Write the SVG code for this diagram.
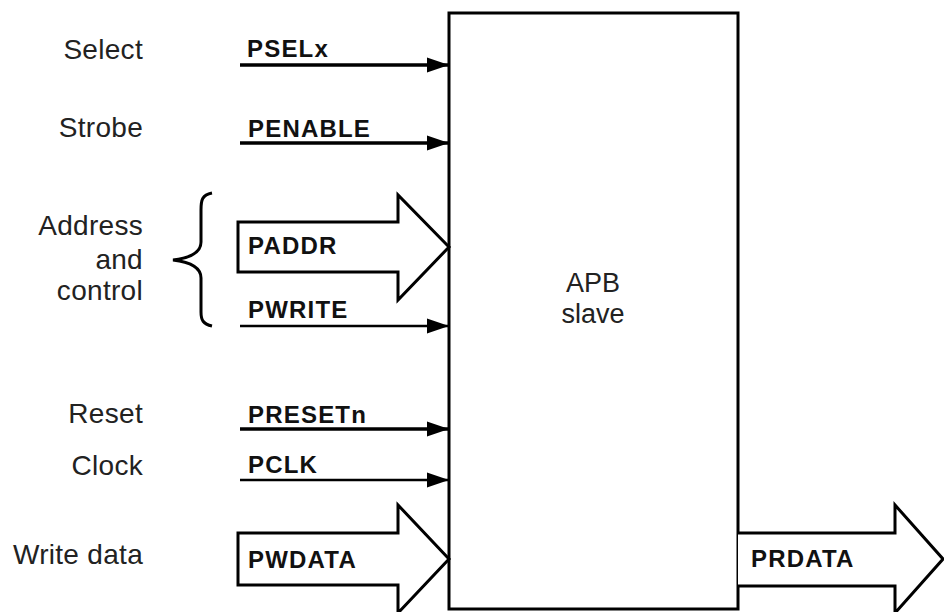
<svg xmlns="http://www.w3.org/2000/svg" width="944" height="612" viewBox="0 0 944 612">
<style>
  .lbl { font-family: "Liberation Sans", Arial, sans-serif; font-size: 28px; letter-spacing: 0.3px; fill: #222; text-anchor: end; }
  .sig { font-family: "Liberation Sans", Arial, sans-serif; font-size: 24px; letter-spacing: 1.2px; font-weight: bold; fill: #111; }
  .ctr { font-family: "Liberation Sans", Arial, sans-serif; font-size: 27px; fill: #222; text-anchor: middle; }
  .wire { stroke: #000; stroke-width: 3.5; fill: none; marker-end: url(#ah); }
  .thin { stroke-width: 2.5; }
  .bus { stroke: #000; stroke-width: 3; fill: #fff; stroke-linejoin: miter; }
</style>
<defs>
  <marker id="ah" markerUnits="userSpaceOnUse" markerWidth="22" markerHeight="18" refX="22" refY="9" orient="auto">
    <path d="M0,1.5 L22,9 L0,16.5 z" fill="#000"/>
  </marker>
</defs>
<rect width="944" height="612" fill="#fff"/>

<g id="apb-slave">
  <rect x="449" y="13" width="289" height="596" fill="#fff" stroke="#000" stroke-width="3"/>
  <text class="ctr" x="593" y="292">APB</text>
  <text class="ctr" x="593" y="323">slave</text>
</g>

<g id="left-labels">
  <text class="lbl" x="143" y="59">Select</text>
  <text class="lbl" x="143" y="137">Strobe</text>
  <text class="lbl" x="143" y="235">Address</text>
  <text class="lbl" x="143" y="269">and</text>
  <text class="lbl" x="143" y="300">control</text>
  <text class="lbl" x="143" y="423">Reset</text>
  <text class="lbl" x="143" y="475">Clock</text>
  <text class="lbl" x="143" y="564">Write data</text>
  <path id="brace" d="M212,193 C202,195 201,200 201,210 L201,242 C201,252 190,258 173,260 C190,262 201,268 201,278 L201,312 C201,320 203,324 212,326" fill="none" stroke="#000" stroke-width="3"/>
</g>

<g id="connectors">
  <g id="psel">
    <line class="wire" x1="240" y1="65" x2="449" y2="65"/>
    <text class="sig" x="247" y="57">PSELx</text>
  </g>
  <g id="penable">
    <line class="wire" x1="240" y1="143" x2="449" y2="143"/>
    <text class="sig" x="248" y="137">PENABLE</text>
  </g>
  <g id="paddr">
    <path class="bus" d="M238,222 L398,222 L398,195 L449,247 L398,300 L398,272 L238,272 Z"/>
    <text class="sig" x="248" y="254">PADDR</text>
  </g>
  <g id="pwrite">
    <line class="wire thin" x1="240" y1="326" x2="449" y2="326"/>
    <text class="sig" x="248" y="318">PWRITE</text>
  </g>
  <g id="preset">
    <line class="wire" x1="240" y1="429" x2="449" y2="429"/>
    <text class="sig" x="248" y="423">PRESETn</text>
  </g>
  <g id="pclk">
    <line class="wire thin" x1="240" y1="480" x2="449" y2="480"/>
    <text class="sig" x="248" y="473">PCLK</text>
  </g>
  <g id="pwdata">
    <path class="bus" d="M238,533 L398,533 L398,505 L449,559 L398,613 L398,585 L238,585 Z"/>
    <text class="sig" x="248" y="568">PWDATA</text>
  </g>
  <g id="prdata">
    <path class="bus" d="M738,533 L895,533 L895,505 L943,559 L895,613 L895,586 L738,586"/>
    <text class="sig" x="751" y="567">PRDATA</text>
  </g>
</g>
</svg>
